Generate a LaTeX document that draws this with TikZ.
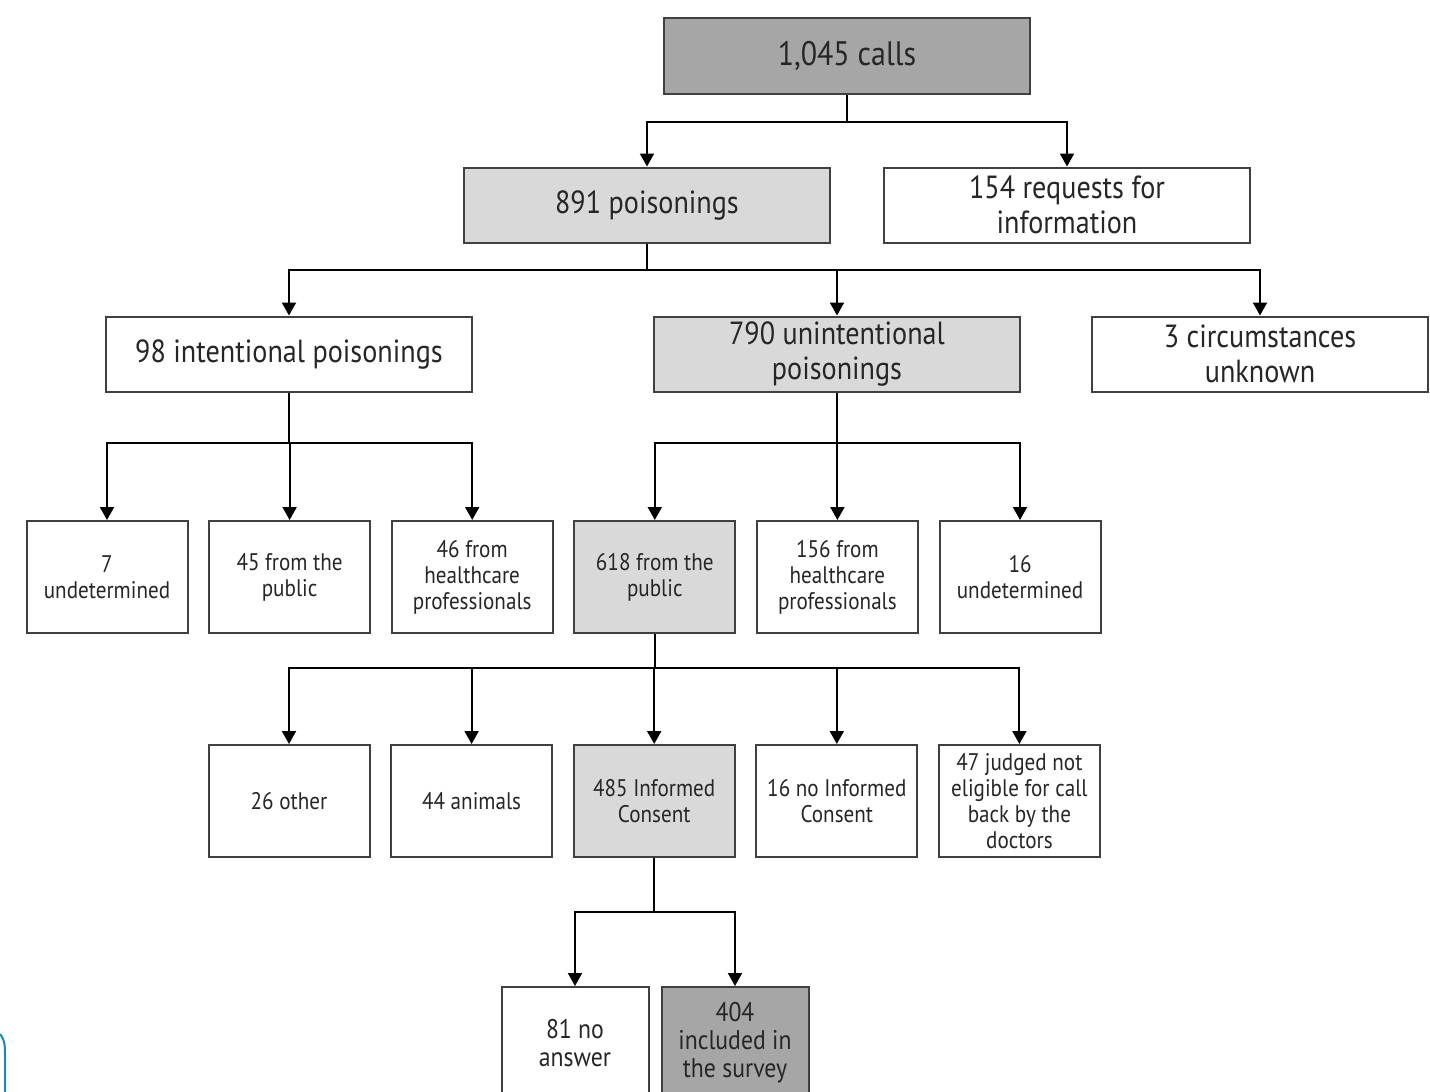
\documentclass[tikz,border=0pt]{standalone}
\usepackage{fontspec}
\setmainfont{PT Sans}[FakeStretch=0.88]
\usepackage{tikz}
\usetikzlibrary{arrows.meta,positioning}
\definecolor{edgeblue}{RGB}{20,140,180}

\begin{document}
\begin{tikzpicture}[x=0.5pt,y=-0.5pt,
  box/.style={draw=black!75, line width=1pt, fill=white, align=center, inner sep=0pt,
    minimum width=183pt, minimum height=37.5pt, text=black!85, font=\fontsize{16}{17.5}\selectfont},
  sbox/.style={box, minimum width=80.5pt, minimum height=56pt, font=\fontsize{12}{13}\selectfont},
  lite/.style={fill=black!15},
  dark/.style={fill=black!35},
  link/.style={line width=1pt, -{Triangle[width=7pt,length=6.5pt]}}]
\useasboundingbox (0,0) rectangle (1430,1092);

\node[box,dark,minimum height=38pt,font=\fontsize{17}{19}\selectfont] (calls) at (847,56) {1,045 calls};
\node[box,lite] (poi891) at (647,205) {891 poisonings};
\node[box,right=26pt of poi891] (req154) {154 requests for\\information};
\node[box] (int98) at (289,354) {98 intentional poisonings};
\node[box,lite] (uni790) at (837,354) {790 unintentional\\poisonings};
\node[box,minimum width=168pt] (unk3) at (1260,354) {3 circumstances\\unknown};

\node[sbox] (und7) at (107,577) {7\\undetermined};
\node[sbox,right=9.8pt of und7] (pub45) {45 from the\\public};
\node[sbox,right=9.8pt of pub45] (hcp46) {46 from\\healthcare\\professionals};
\node[sbox,lite,right=9.8pt of hcp46] (pub618) {618 from the\\public};
\node[sbox,right=9.8pt of pub618] (hcp156) {156 from\\healthcare\\professionals};
\node[sbox,right=9.8pt of hcp156] (und16) {16\\undetermined};

\node[sbox] (oth26) at (289,801) {26 other};
\node[sbox,right=9.8pt of oth26] (ani44) {44 animals};
\node[sbox,lite,right=9.8pt of ani44] (ic485) {485 Informed\\Consent};
\node[sbox,right=9.8pt of ic485] (noic16) {16 no Informed\\Consent};
\node[sbox,right=9.8pt of noic16] (nel47) {47 judged not\\eligible for call\\back by the\\doctors};

\node[sbox,minimum width=73.5pt,font=\fontsize{13.5}{14}\selectfont] (noa81) at (575,1043) {81 no\\answer};
\node[sbox,dark,minimum width=73.5pt,font=\fontsize{13.5}{14}\selectfont,right=5.5pt of noa81] (inc404) {404\\included in\\the survey};

\coordinate (b1) at (0,122);
\coordinate (b2) at (0,270);
\coordinate (b3) at (0,443);
\coordinate (b4) at (0,668);
\coordinate (b5) at (0,912);

\foreach \c in {poi891,req154}
  \draw[link] (calls.south) -- (calls.south |- b1) -| (\c.north);
\foreach \c in {int98,uni790,unk3}
  \draw[link] (poi891.south) -- (poi891.south |- b2) -| (\c.north);
\foreach \c in {und7,pub45,hcp46}
  \draw[link] (int98.south) -- (int98.south |- b3) -| (\c.north);
\foreach \c in {pub618,hcp156,und16}
  \draw[link] (uni790.south) -- (uni790.south |- b3) -| (\c.north);
\foreach \c in {oth26,ani44,ic485,noic16,nel47}
  \draw[link] (pub618.south) -- (pub618.south |- b4) -| (\c.north);
\foreach \c in {noa81,inc404}
  \draw[link] (ic485.south) -- (ic485.south |- b5) -| (\c.north);

\draw[edgeblue, line width=1pt] (0,1034) .. controls (5,1040) and (5,1046) .. (5,1054) -- (5,1092);
\end{tikzpicture}
\end{document}
